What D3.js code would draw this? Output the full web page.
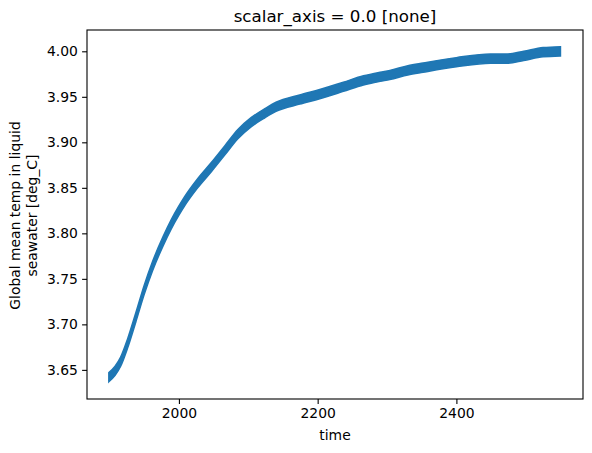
<!DOCTYPE html>
<html>
<head>
<meta charset="utf-8">
<script src="https://cdn.jsdelivr.net/npm/d3@7"></script>
<style>
  html, body { margin: 0; padding: 0; background: #fff; }
  svg { display: block; font-family: "DejaVu Sans", sans-serif; }
</style>
</head>
<body>
<svg id="chart" width="592" height="453"></svg>
<script>
// ---- data ----
const years = [1899, 1908, 1916, 1926, 1938, 1950, 1962, 1977, 1989, 2000, 2008, 2027, 2047, 2066, 2085, 2104, 2124, 2140, 2174, 2203, 2237, 2266, 2290, 2304, 2330, 2352, 2400, 2449, 2473, 2497, 2525, 2550];
const temps = [3.642, 3.649, 3.659, 3.679, 3.708, 3.738, 3.764, 3.791, 3.810, 3.825, 3.835, 3.855, 3.873, 3.891, 3.909, 3.922, 3.932, 3.939, 3.947, 3.953, 3.961, 3.968, 3.972, 3.974, 3.979, 3.982, 3.988, 3.992, 3.992, 3.995, 3.999, 4.000];
const xTicks = [2000, 2200, 2400];
const yTicks = [3.65, 3.70, 3.75, 3.80, 3.85, 3.90, 3.95, 4.00];
const titleText = "scalar_axis = 0.0 [none]";
const xLabel = "time";
const yLabelLines = ["Global mean temp in liquid", "seawater [deg_C]"];

// ---- layout ----
const L = 87, R = 583, T = 30, B = 399;
const svg = d3.select("#chart");

const x = d3.scaleLinear().domain([1867.5, 2582.5]).range([L, R]);
const y = d3.scaleLinear().domain([3.6180, 4.0234]).range([B, T]);

const data = years.map((yr, i) => ({ yr, v: temps[i] }));
const half = 4.6; // visual half-thickness of the band in px

svg.append("path")
  .datum(data)
  .attr("fill", "#1f77b4")
  .attr("stroke", "#1f77b4")
  .attr("stroke-width", 1.5)
  .attr("d", d3.area()
    .x(d => x(d.yr))
    .y0(d => y(d.v) + half)
    .y1(d => y(d.v) - half)
    .curve(d3.curveMonotoneX));

// axes
const fs = 13.9;
const xAxis = svg.append("g").attr("transform", `translate(0,${B})`)
  .call(d3.axisBottom(x).tickValues(xTicks).tickFormat(d3.format("d")).tickSize(4.9).tickPadding(4.2));
const yAxis = svg.append("g").attr("transform", `translate(${L},0)`)
  .call(d3.axisLeft(y).tickValues(yTicks).tickFormat(d3.format(".2f")).tickSize(4.9).tickPadding(4.2));
[xAxis, yAxis].forEach(g => {
  g.select(".domain").remove();
  g.selectAll(".tick line").attr("stroke", "#000").attr("stroke-width", 1.1);
  g.selectAll(".tick text").attr("fill", "#000").style("font-size", fs + "px").style("font-family", "DejaVu Sans");
});

// frame
svg.append("rect")
  .attr("x", L).attr("y", T).attr("width", R - L).attr("height", B - T)
  .attr("fill", "none").attr("stroke", "#000").attr("stroke-width", 1.1);

// title
svg.append("text")
  .attr("x", (L + R) / 2).attr("y", 21.5)
  .attr("text-anchor", "middle")
  .style("font-size", "16.7px")
  .attr("fill", "#000")
  .text(titleText);

// x label
svg.append("text")
  .attr("x", (L + R) / 2).attr("y", 440)
  .attr("text-anchor", "middle")
  .style("font-size", fs + "px")
  .attr("fill", "#000")
  .text(xLabel);

// y label
const yl = svg.append("text")
  .attr("transform", `translate(20,${(T + B) / 2 + 1}) rotate(-90)`)
  .attr("text-anchor", "middle")
  .style("font-size", fs + "px")
  .attr("fill", "#000");
yLabelLines.forEach((t, i) => {
  yl.append("tspan").attr("x", 0).attr("dy", i === 0 ? 0 : 16.5).text(t);
});
</script>
</body>
</html>
